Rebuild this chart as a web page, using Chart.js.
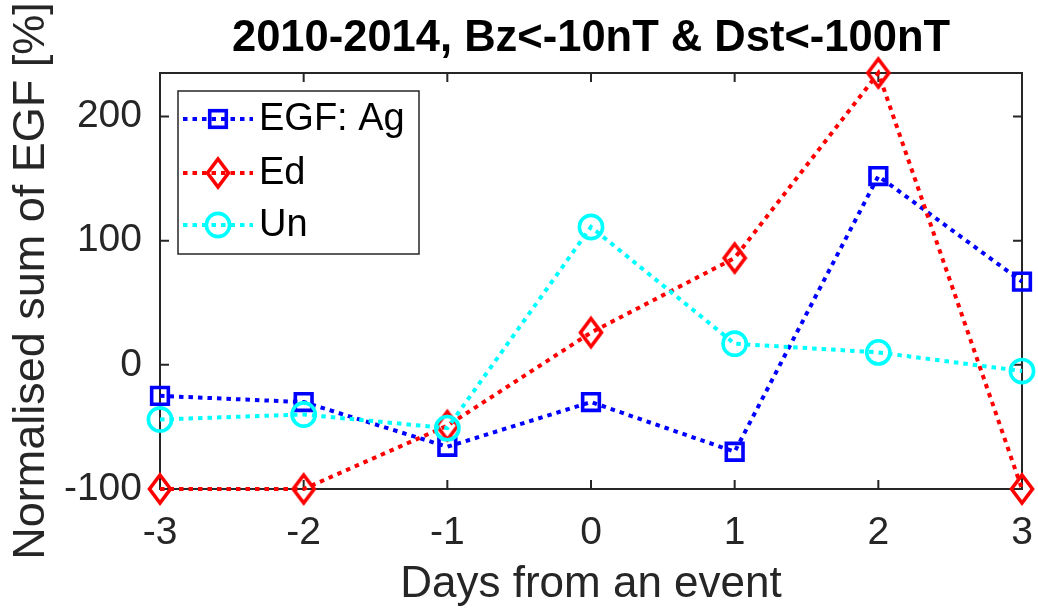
<!DOCTYPE html>
<html>
<head>
<meta charset="utf-8">
<script src="https://cdn.jsdelivr.net/npm/chart.js@4/dist/chart.umd.min.js"></script>
<style>
  html, body { margin: 0; padding: 0; background: #ffffff; }
  #wrap { width: 1038px; height: 611px; position: relative; }
</style>
</head>
<body>
<div id="wrap"><canvas id="c"></canvas></div>
<script>
// Days relative to the event (x categories)
const days = ['-3', '-2', '-1', '0', '1', '2', '3'];
// Normalised sum of EGF [%] per group
const egfAg = [-25, -30, -66, -30, -70, 152, 67];
const egfEd = [-100, -100, -49, 26, 86, 235, -100];
const egfUn = [-44, -40, -51, 111, 17, 10, -5];
// Y axis range and tick values
const yMin = -100;
const yMax = 235;
const yTicks = [-100, 0, 100, 200];
// Legend entries
const legendNames = ['EGF: Ag', 'Ed', 'Un'];

const FONT = '"Liberation Sans", Arial, Helvetica, sans-serif';
const AXIS_COLOR = '#262626';
const BLUE = '#0000FF', RED = '#FF0000', CYAN = '#00FFFF';
const DASH = [4.5, 5];

// Tall diamond marker drawn once into a small canvas
function makeDiamond(color) {
  const c = document.createElement('canvas');
  c.width = 30; c.height = 38;
  const g = c.getContext('2d');
  g.strokeStyle = color;
  g.lineWidth = 3.6;
  g.lineJoin = 'miter';
  g.beginPath();
  g.moveTo(15, 5);
  g.lineTo(25.5, 19);
  g.lineTo(15, 33);
  g.lineTo(4.5, 19);
  g.closePath();
  g.stroke();
  return c;
}
const diamond = makeDiamond(RED);

function drawMarker(ctx, kind, color, x, y) {
  ctx.save();
  ctx.setLineDash([]);
  ctx.strokeStyle = color;
  ctx.lineWidth = 3.6;
  if (kind === 'rect') {
    const s = 8.3;
    ctx.strokeRect(x - s, y - s, 2 * s, 2 * s);
  } else if (kind === 'circle') {
    ctx.beginPath();
    ctx.arc(x, y, 11.6, 0, Math.PI * 2);
    ctx.stroke();
  } else {
    ctx.drawImage(diamond, x - diamond.width / 2, y - diamond.height / 2);
  }
  ctx.restore();
}

// Full box around the axes with inward-pointing tick marks on all sides
const axesBox = {
  id: 'axesBox',
  beforeDatasetsDraw(chart) {
    const { ctx, chartArea: a, scales: { x, y } } = chart;
    ctx.save();
    ctx.strokeStyle = AXIS_COLOR;
    ctx.lineWidth = 2;
    ctx.strokeRect(a.left, a.top, a.right - a.left, a.bottom - a.top);
    const tl = 9;
    ctx.beginPath();
    x.ticks.forEach((t, i) => {
      const px = x.getPixelForTick(i);
      ctx.moveTo(px, a.bottom); ctx.lineTo(px, a.bottom - tl);
      ctx.moveTo(px, a.top); ctx.lineTo(px, a.top + tl);
    });
    y.ticks.forEach(t => {
      const py = y.getPixelForValue(t.value);
      ctx.moveTo(a.left, py); ctx.lineTo(a.left + tl, py);
      ctx.moveTo(a.right, py); ctx.lineTo(a.right - tl, py);
    });
    ctx.stroke();
    ctx.restore();
  }
};

// Boxed legend in the upper-left corner of the plot area
const boxedLegend = {
  id: 'boxedLegend',
  afterDraw(chart) {
    const { ctx, chartArea: a } = chart;
    const bx = a.left + 18, by = a.top + 18, bw = 241, bh = 163;
    ctx.save();
    ctx.fillStyle = '#ffffff';
    ctx.fillRect(bx, by, bw, bh);
    ctx.strokeStyle = AXIS_COLOR;
    ctx.lineWidth = 1.5;
    ctx.strokeRect(bx, by, bw, bh);
    const kinds = ['rect', 'diamond', 'circle'];
    const colors = [BLUE, RED, CYAN];
    const rowY = [by + 28, by + 82, by + 134];
    ctx.font = '38px ' + FONT;
    ctx.textBaseline = 'middle';
    ctx.textAlign = 'left';
    legendNames.forEach((name, i) => {
      const yy = rowY[i];
      ctx.save();
      ctx.strokeStyle = colors[i];
      ctx.lineWidth = 4;
      ctx.setLineDash(DASH);
      ctx.beginPath();
      ctx.moveTo(bx + 5, yy);
      ctx.lineTo(bx + 75, yy);
      ctx.stroke();
      ctx.restore();
      drawMarker(ctx, kinds[i], colors[i], bx + 40, yy);
      ctx.fillStyle = '#000000';
      ctx.fillText(name, bx + 81, yy + 1);
    });
    ctx.restore();
  }
};

const lineStyle = (color) => ({
  borderColor: color,
  backgroundColor: 'rgba(0,0,0,0)',
  borderWidth: 4,
  borderDash: DASH,
  borderCapStyle: 'butt',
  pointBorderColor: color,
  pointBackgroundColor: 'rgba(0,0,0,0)',
  pointBorderWidth: 3.6,
  pointRadius: 11.8,
  tension: 0,
  fill: false,
  clip: false
});

new Chart(document.getElementById('c'), {
  type: 'line',
  data: {
    labels: days,
    datasets: [
      Object.assign({ label: legendNames[0], data: egfAg, pointStyle: 'rect', order: 2 }, lineStyle(BLUE)),
      Object.assign({ label: legendNames[1], data: egfEd, pointStyle: diamond, order: 1 }, lineStyle(RED)),
      Object.assign({ label: legendNames[2], data: egfUn, pointStyle: 'circle', order: 0 }, lineStyle(CYAN), { pointRadius: 11.6 })
    ]
  },
  options: {
    responsive: true,
    maintainAspectRatio: false,
    animation: false,
    events: [],
    layout: { padding: { left: 0, right: 16, top: 0, bottom: 0 } },
    plugins: {
      legend: { display: false },
      tooltip: { enabled: false },
      title: {
        display: true,
        fullSize: false,
        text: '2010-2014, Bz<-10nT & Dst<-100nT',
        color: '#000000',
        font: { family: FONT, size: 43.5, weight: 'bold', lineHeight: 1.2 },
        padding: { top: 13, bottom: 7.8 }
      }
    },
    scales: {
      x: {
        type: 'category',
        offset: false,
        grid: { display: false, drawTicks: false },
        border: { display: false },
        ticks: {
          color: AXIS_COLOR,
          padding: 21,
          maxRotation: 0,
          autoSkip: false,
          font: { family: FONT, size: 39, lineHeight: 1.2 }
        },
        title: {
          display: true,
          text: 'Days from an event',
          color: AXIS_COLOR,
          font: { family: FONT, size: 44, lineHeight: 1.2 },
          padding: { top: 0, bottom: 0 }
        },
        afterFit(scale) {
          scale.height = 122;
          scale.paddingLeft = 0;
          scale.paddingRight = 0;
        }
      },
      y: {
        type: 'linear',
        min: yMin,
        max: yMax,
        grid: { display: false, drawTicks: false },
        border: { display: false },
        afterBuildTicks(scale) { scale.ticks = yTicks.map(v => ({ value: v })); },
        ticks: {
          color: AXIS_COLOR,
          padding: 18,
          font: { family: FONT, size: 39, lineHeight: 1.2 }
        },
        title: {
          display: true,
          text: 'Normalised sum of EGF [%]',
          color: AXIS_COLOR,
          font: { family: FONT, size: 45, lineHeight: 1.2 },
          padding: { top: 5, bottom: 0 }
        },
        afterFit(scale) {
          scale.width = 160;
          scale.paddingTop = 0;
          scale.paddingBottom = 0;
        }
      }
    }
  },
  plugins: [axesBox, boxedLegend]
});
</script>
</body>
</html>
